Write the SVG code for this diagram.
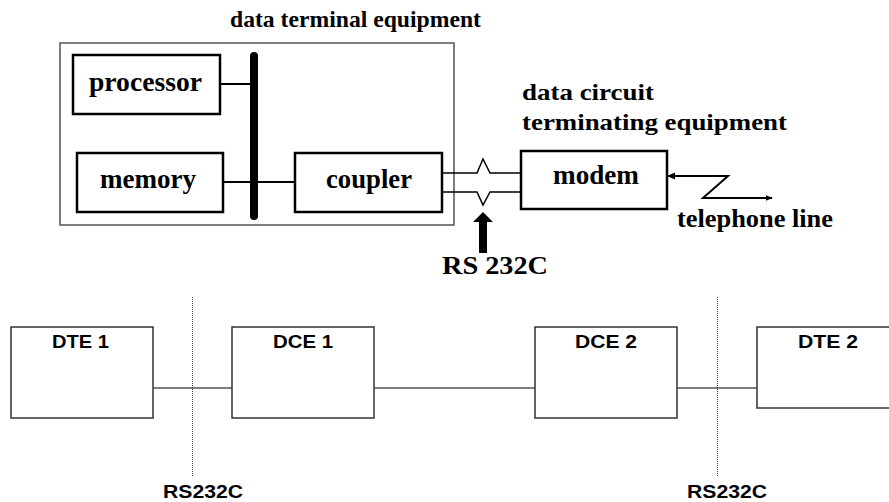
<svg xmlns="http://www.w3.org/2000/svg" width="889" height="502" viewBox="0 0 889 502">
<style>
.serif{font-family:"Liberation Serif","Times New Roman",serif;font-weight:bold;font-size:27px;fill:#000}
.hdr{font-size:23px}
.sans{font-family:"Liberation Sans",Arial,sans-serif;font-weight:bold;font-size:18px;fill:#000}
.box{fill:#fff;stroke:#000;stroke-width:2.5}
.bbox{fill:#fff;stroke:#333;stroke-width:1.5}
.wire{fill:none;stroke:#000;stroke-width:2}
.thin{fill:none;stroke:#000;stroke-width:1.5}
.bline{fill:none;stroke:#555;stroke-width:1.5}
.dot{fill:none;stroke:#444;stroke-width:1;stroke-dasharray:1,1}
</style>
<defs>
<marker id="ah" viewBox="0 0 10 10" refX="9" refY="5" markerWidth="7" markerHeight="7" markerUnits="userSpaceOnUse" orient="auto">
<path d="M0,1 L10,5 L0,9 z" fill="#000"/>
</marker>
</defs>
<rect width="889" height="502" fill="#fff"/>

<g id="dte-label"><text class="serif hdr" x="230" y="27" textLength="251" lengthAdjust="spacingAndGlyphs">data terminal equipment</text></g>
<g id="dte"><rect x="60" y="43" width="394" height="182" fill="none" stroke="#555" stroke-width="1.5"/></g>

<g id="connectors">
<line class="wire" x1="220" y1="84" x2="254" y2="84"/>
<line class="wire" x1="223" y1="182" x2="295" y2="182"/>
<path class="thin" d="M442,173 H477 L483,159 L490,173 H521"/>
<path class="thin" d="M442,192 H477 L483,205 L490,192 H521"/>
<path class="wire" d="M667,176 H728 L703,198 H772" marker-end="url(#ah)"/>
<path d="M667,176 L675,172.5 L675,179.5 z" fill="#000"/>
<line class="bline" x1="153" y1="388" x2="232" y2="388"/>
<line class="bline" x1="374" y1="388" x2="535" y2="388"/>
<line class="bline" x1="677" y1="388" x2="757" y2="388"/>
<line class="dot" x1="192.5" y1="297" x2="192.5" y2="477"/>
<line class="dot" x1="717.5" y1="297" x2="717.5" y2="477"/>
</g>

<g id="bus"><line x1="254" y1="56" x2="254" y2="216" stroke="#000" stroke-width="8" stroke-linecap="round"/></g>

<g id="processor"><rect class="box" x="73" y="55" width="147" height="59"/>
<text class="serif" x="89" y="91" textLength="113" lengthAdjust="spacingAndGlyphs">processor</text></g>
<g id="memory"><rect class="box" x="77" y="153" width="146" height="59"/>
<text class="serif" x="100" y="188" textLength="96" lengthAdjust="spacingAndGlyphs">memory</text></g>
<g id="coupler"><rect class="box" x="295" y="153" width="147" height="59"/>
<text class="serif" x="326" y="188" textLength="86" lengthAdjust="spacingAndGlyphs">coupler</text></g>

<g id="dce-label">
<text class="serif hdr" x="522" y="100" textLength="132" lengthAdjust="spacingAndGlyphs">data circuit</text>
<text class="serif hdr" x="522" y="130" textLength="265" lengthAdjust="spacingAndGlyphs">terminating equipment</text></g>
<g id="modem"><rect class="box" x="521" y="151" width="146" height="58"/>
<text class="serif" x="553" y="184" textLength="86" lengthAdjust="spacingAndGlyphs">modem</text></g>
<g id="telephone"><text class="serif" x="677" y="227" textLength="156" lengthAdjust="spacingAndGlyphs" style="font-size:26px">telephone line</text></g>

<g id="rs232-arrow"><path d="M483,212 L493,222 L487,222 L487,253 L479,253 L479,222 L473,222 z" fill="#000"/>
<text class="serif" x="442" y="274" textLength="106" lengthAdjust="spacingAndGlyphs" style="font-size:25px">RS 232C</text></g>

<g id="dte1"><rect class="bbox" x="11" y="327" width="142" height="91"/>
<text class="sans" x="52" y="348" textLength="57" lengthAdjust="spacingAndGlyphs">DTE 1</text></g>
<g id="dce1"><rect class="bbox" x="232" y="327" width="142" height="91"/>
<text class="sans" x="273" y="348" textLength="60" lengthAdjust="spacingAndGlyphs">DCE 1</text></g>
<g id="dce2"><rect class="bbox" x="535" y="327" width="142" height="91"/>
<text class="sans" x="575" y="348" textLength="62" lengthAdjust="spacingAndGlyphs">DCE 2</text></g>
<g id="dte2"><rect class="bbox" x="757" y="327" width="142" height="81"/>
<text class="sans" x="798" y="348" textLength="60" lengthAdjust="spacingAndGlyphs">DTE 2</text></g>

<g id="rs232-1"><text class="sans" x="163" y="498" textLength="80" lengthAdjust="spacingAndGlyphs">RS232C</text></g>
<g id="rs232-2"><text class="sans" x="687" y="498" textLength="80" lengthAdjust="spacingAndGlyphs">RS232C</text></g>
</svg>
